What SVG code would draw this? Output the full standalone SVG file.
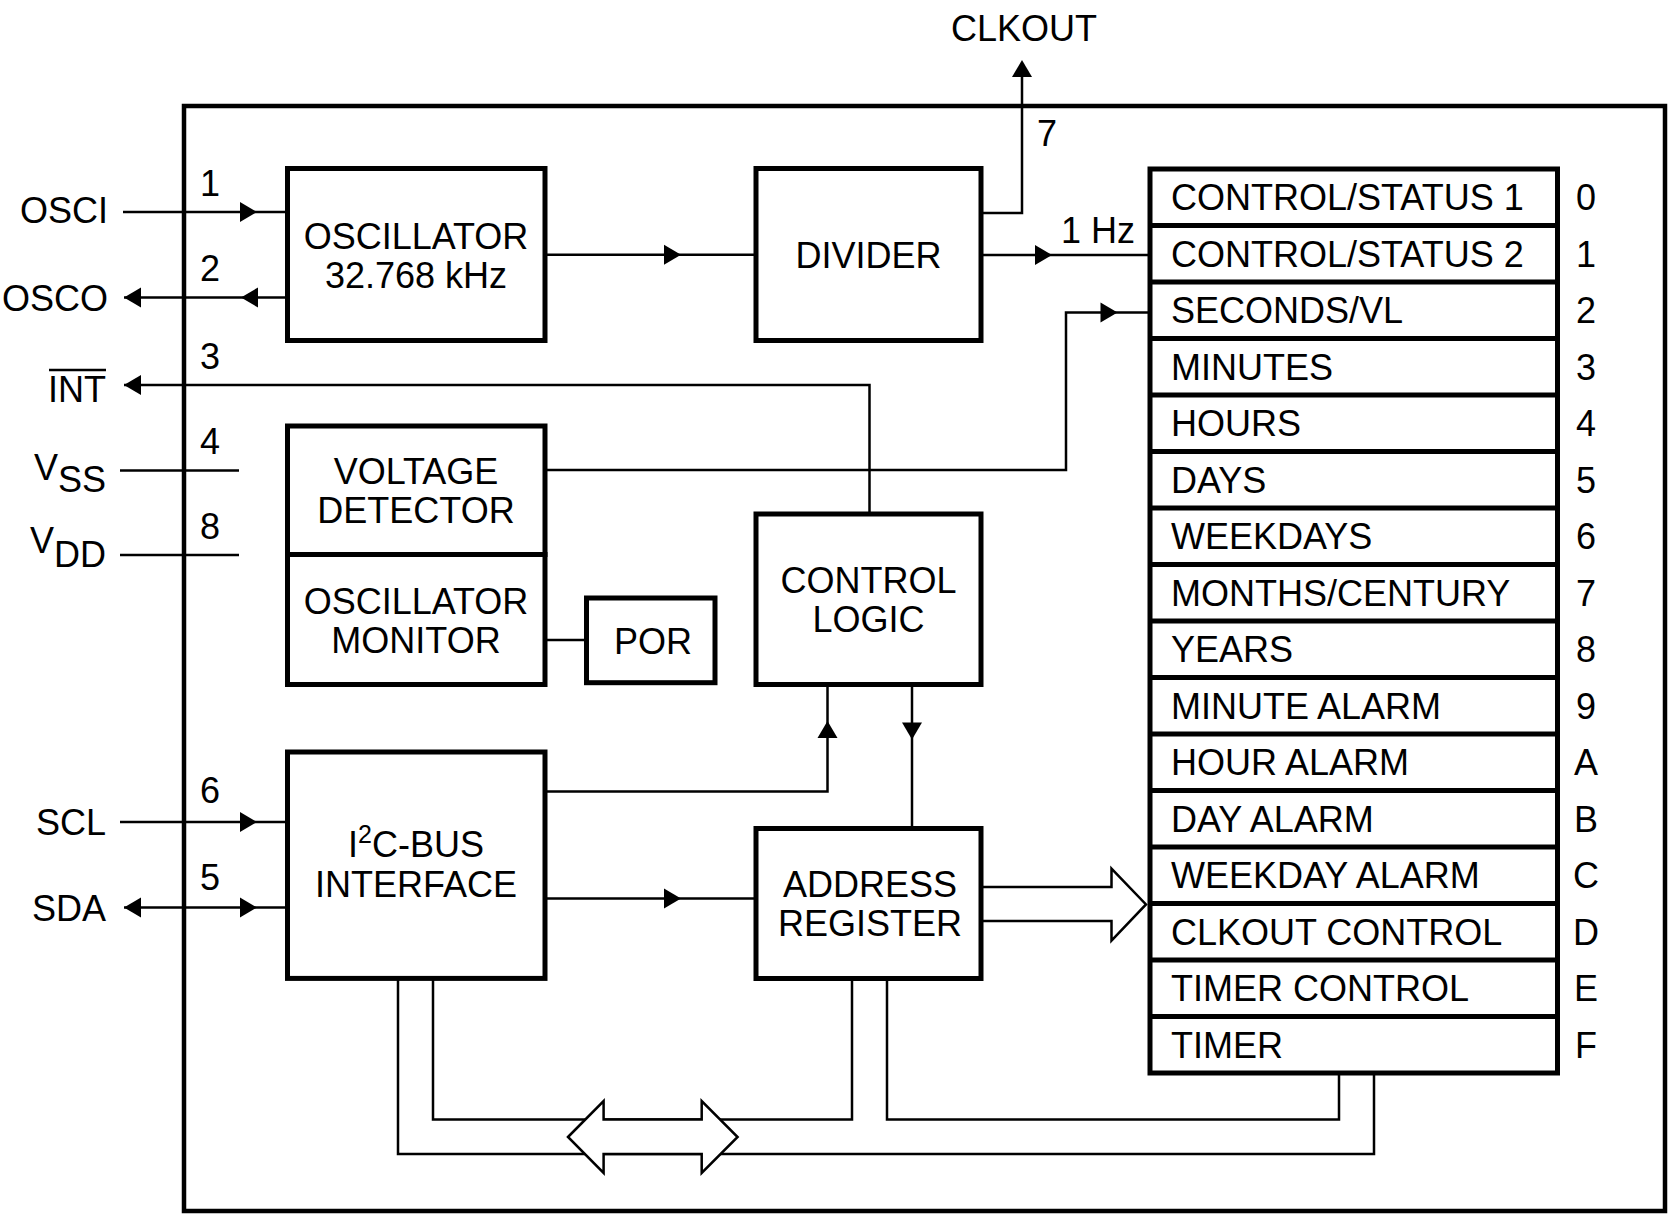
<svg xmlns="http://www.w3.org/2000/svg" width="1680" height="1220" viewBox="0 0 1680 1220">
<style>
.box{fill:#fff;stroke:#000;stroke-width:5}
.frame{fill:none;stroke:#000;stroke-width:4.5}
.ln{fill:none;stroke:#000;stroke-width:2.5}
.bus{fill:#fff;stroke:#000;stroke-width:2.5}
.t{font-family:"Liberation Sans",Arial,Helvetica,sans-serif;font-size:36px;fill:#000}
.c{text-anchor:middle}
.e{text-anchor:end}
</style>
<defs>
<path id="ah" d="M0,0 L-17,-10 L-17,10 Z" fill="#000"/>
</defs>
<rect width="1680" height="1220" fill="#fff"/>
<rect class="frame" x="184" y="106" width="1481" height="1105"/>

<g id="connectors">
<path class="ln" d="M123,212 H287"/>
<path class="ln" d="M124,297.5 H287"/>
<path class="ln" d="M124,385 H869.5 V514"/>
<path class="ln" d="M120,470.5 H239"/>
<path class="ln" d="M120,555 H239"/>
<path class="ln" d="M545,254.8 H756"/>
<path class="ln" d="M981,213 H1022 V64"/>
<path class="ln" d="M981,255 H1150"/>
<path class="ln" d="M545,470 H1066 V312.5 H1150"/>
<path class="ln" d="M545,640 H586.5"/>
<path class="ln" d="M545,791.6 H827.5 V684.5"/>
<path class="ln" d="M912,684.5 V828.5"/>
<path class="ln" d="M120,822 H287"/>
<path class="ln" d="M124,907.5 H287"/>
<path class="ln" d="M545,898.6 H756"/>
<path class="ln" d="M398,978 V1154 H1374 V1073"/>
<path class="ln" d="M433,978 V1119.5 H852 V978"/>
<path class="ln" d="M887,978 V1119.5 H1339 V1073"/>
<path class="bus" d="M568,1137 L603.6,1101 V1119.5 H701.7 V1101 L737.6,1137 L701.7,1173 V1154 H603.6 V1173 Z"/>
<path class="bus" d="M981,887 H1111.5 V868.6 L1146,904.4 L1111.5,940.6 V921 H981"/>
<use href="#ah" transform="translate(257,212)"/>
<use href="#ah" transform="translate(124,297.5) rotate(180)"/>
<use href="#ah" transform="translate(241,297.5) rotate(180)"/>
<use href="#ah" transform="translate(124,385) rotate(180)"/>
<use href="#ah" transform="translate(681,254.8)"/>
<use href="#ah" transform="translate(1022,60) rotate(-90)"/>
<use href="#ah" transform="translate(1052,255)"/>
<use href="#ah" transform="translate(1117.5,312.5)"/>
<use href="#ah" transform="translate(827.5,721) rotate(-90)"/>
<use href="#ah" transform="translate(912,739.5) rotate(90)"/>
<use href="#ah" transform="translate(257,822)"/>
<use href="#ah" transform="translate(124,907.5) rotate(180)"/>
<use href="#ah" transform="translate(257,907.5)"/>
<use href="#ah" transform="translate(681,898.6)"/>
</g>

<g id="pins">
<text class="t e" x="108" y="222.5">OSCI</text>
<text class="t e" x="108" y="311">OSCO</text>
<text class="t e" x="106" y="402">INT</text>
<line class="ln" x1="49" y1="370" x2="106" y2="370"/>
<text class="t e" x="106" y="480">V<tspan dy="12">SS</tspan></text>
<text class="t e" x="106" y="553">V<tspan dy="14">DD</tspan></text>
<text class="t e" x="106" y="835">SCL</text>
<text class="t e" x="106" y="921">SDA</text>
<text class="t c" x="1024" y="41">CLKOUT</text>
<text class="t c" x="210" y="196">1</text>
<text class="t c" x="210" y="281">2</text>
<text class="t c" x="210" y="369">3</text>
<text class="t c" x="210" y="454">4</text>
<text class="t c" x="210" y="539">8</text>
<text class="t c" x="210" y="803">6</text>
<text class="t c" x="210" y="890">5</text>
<text class="t c" x="1047" y="146">7</text>
<text class="t" x="1061" y="243">1 Hz</text>
</g>

<g id="oscillator">
<rect class="box" x="287.5" y="168.5" width="257.5" height="172"/>
<text class="t c" x="416" y="249">OSCILLATOR</text>
<text class="t c" x="416" y="288">32.768 kHz</text>
</g>
<g id="divider">
<rect class="box" x="756" y="168.5" width="225" height="172"/>
<text class="t c" x="868.5" y="268">DIVIDER</text>
</g>
<g id="voltage-detector">
<rect class="box" x="287.5" y="426" width="257.5" height="128.5"/>
<text class="t c" x="416" y="484">VOLTAGE</text>
<text class="t c" x="416" y="523">DETECTOR</text>
</g>
<g id="oscillator-monitor">
<rect class="box" x="287.5" y="554.5" width="257.5" height="130"/>
<text class="t c" x="416" y="614">OSCILLATOR</text>
<text class="t c" x="416" y="653">MONITOR</text>
</g>
<g id="por">
<rect class="box" x="586.5" y="598" width="128.5" height="84.7"/>
<text class="t c" x="653" y="654">POR</text>
</g>
<g id="control-logic">
<rect class="box" x="756" y="514" width="225" height="170.5"/>
<text class="t c" x="868.5" y="593">CONTROL</text>
<text class="t c" x="868.5" y="632">LOGIC</text>
</g>
<g id="i2c">
<rect class="box" x="287.5" y="752" width="257.5" height="226.4"/>
<text class="t c" x="416" y="857">I<tspan font-size="25" dy="-14">2</tspan><tspan dy="14">C-BUS</tspan></text>
<text class="t c" x="416" y="897">INTERFACE</text>
</g>
<g id="address-register">
<rect class="box" x="756" y="828.5" width="225" height="150"/>
<text class="t c" x="870" y="897">ADDRESS</text>
<text class="t c" x="870" y="936">REGISTER</text>
</g>
<g id="registers">
<rect class="box" x="1150" y="169" width="407.5" height="904"/>
<path class="box" d="M1150,225.5 H1557.5 M1150,282 H1557.5 M1150,338.5 H1557.5 M1150,395 H1557.5 M1150,451.5 H1557.5 M1150,508 H1557.5 M1150,564.5 H1557.5 M1150,621 H1557.5 M1150,677.5 H1557.5 M1150,734 H1557.5 M1150,790.5 H1557.5 M1150,847 H1557.5 M1150,903.5 H1557.5 M1150,960 H1557.5 M1150,1016.5 H1557.5"/>
<text class="t" x="1171" y="210">CONTROL/STATUS 1</text>
<text class="t" x="1171" y="266.5">CONTROL/STATUS 2</text>
<text class="t" x="1171" y="323">SECONDS/VL</text>
<text class="t" x="1171" y="379.5">MINUTES</text>
<text class="t" x="1171" y="436">HOURS</text>
<text class="t" x="1171" y="492.5">DAYS</text>
<text class="t" x="1171" y="549">WEEKDAYS</text>
<text class="t" x="1171" y="605.5">MONTHS/CENTURY</text>
<text class="t" x="1171" y="662">YEARS</text>
<text class="t" x="1171" y="718.5">MINUTE ALARM</text>
<text class="t" x="1171" y="775">HOUR ALARM</text>
<text class="t" x="1171" y="831.5">DAY ALARM</text>
<text class="t" x="1171" y="888">WEEKDAY ALARM</text>
<text class="t" x="1171" y="944.5">CLKOUT CONTROL</text>
<text class="t" x="1171" y="1001">TIMER CONTROL</text>
<text class="t" x="1171" y="1057.5">TIMER</text>
<text class="t c" x="1586" y="210">0</text>
<text class="t c" x="1586" y="266.5">1</text>
<text class="t c" x="1586" y="323">2</text>
<text class="t c" x="1586" y="379.5">3</text>
<text class="t c" x="1586" y="436">4</text>
<text class="t c" x="1586" y="492.5">5</text>
<text class="t c" x="1586" y="549">6</text>
<text class="t c" x="1586" y="605.5">7</text>
<text class="t c" x="1586" y="662">8</text>
<text class="t c" x="1586" y="718.5">9</text>
<text class="t c" x="1586" y="775">A</text>
<text class="t c" x="1586" y="831.5">B</text>
<text class="t c" x="1586" y="888">C</text>
<text class="t c" x="1586" y="944.5">D</text>
<text class="t c" x="1586" y="1001">E</text>
<text class="t c" x="1586" y="1057.5">F</text>
</g>
</svg>
